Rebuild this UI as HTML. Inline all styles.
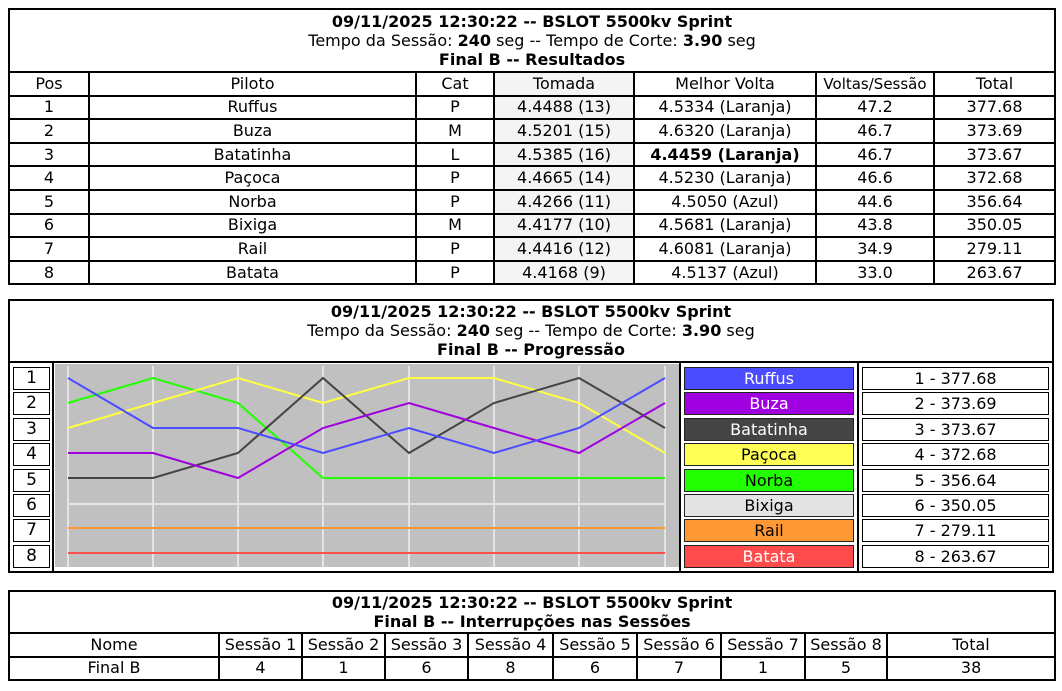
<!DOCTYPE html>
<html><head><meta charset="utf-8"><style>
body{margin:0;width:1062px;height:691px;background:#fff;font-family:"DejaVu Sans","Liberation Sans",sans-serif;font-size:16px;color:#000;position:relative;overflow:hidden}
table{position:absolute;border-collapse:collapse;table-layout:fixed}
td{border:2px solid #000;text-align:center;padding:0;white-space:nowrap;overflow:hidden;line-height:20px}
.t{line-height:19px;font-size:16px}
b{font-weight:bold}
.g{background:#f4f4f4}
.abs{position:absolute;box-sizing:border-box;text-align:center}
.pl{border:1.5px solid #000;background:#fff;font-size:17px;line-height:21px}
.lg{border:1.5px solid #222;font-size:16px;line-height:21px}
.vl{border:1.5px solid #000;background:#fff;font-size:16px;line-height:21px}
</style></head><body>
<table style="left:8px;top:8px;width:1046px">
<colgroup><col style="width:80px"><col style="width:327px"><col style="width:78px"><col style="width:140px"><col style="width:182px"><col style="width:118px"><col style="width:121px"></colgroup>
<tr><td colspan="7" class="t" style="height:61px"><b>09/11/2025 12:30:22 -- BSLOT 5500kv Sprint</b><br>Tempo da Sessão: <b>240</b> seg -- Tempo de Corte: <b>3.90</b> seg<br><b>Final B -- Resultados</b></td></tr>
<tr style="height:23.6px"><td>Pos</td><td>Piloto</td><td>Cat</td><td class="g">Tomada</td><td>Melhor Volta</td><td style="font-size:15px">Voltas/Sessão</td><td>Total</td></tr>
<tr style="height:23.6px"><td>1</td><td>Ruffus</td><td>P</td><td class="g">4.4488 (13)</td><td>4.5334 (Laranja)</td><td>47.2</td><td>377.68</td></tr>
<tr style="height:23.6px"><td>2</td><td>Buza</td><td>M</td><td class="g">4.5201 (15)</td><td>4.6320 (Laranja)</td><td>46.7</td><td>373.69</td></tr>
<tr style="height:23.6px"><td>3</td><td>Batatinha</td><td>L</td><td class="g">4.5385 (16)</td><td><b>4.4459 (Laranja)</b></td><td>46.7</td><td>373.67</td></tr>
<tr style="height:23.6px"><td>4</td><td>Paçoca</td><td>P</td><td class="g">4.4665 (14)</td><td>4.5230 (Laranja)</td><td>46.6</td><td>372.68</td></tr>
<tr style="height:23.6px"><td>5</td><td>Norba</td><td>P</td><td class="g">4.4266 (11)</td><td>4.5050 (Azul)</td><td>44.6</td><td>356.64</td></tr>
<tr style="height:23.6px"><td>6</td><td>Bixiga</td><td>M</td><td class="g">4.4177 (10)</td><td>4.5681 (Laranja)</td><td>43.8</td><td>350.05</td></tr>
<tr style="height:23.6px"><td>7</td><td>Rail</td><td>P</td><td class="g">4.4416 (12)</td><td>4.6081 (Laranja)</td><td>34.9</td><td>279.11</td></tr>
<tr style="height:23.6px"><td>8</td><td>Batata</td><td>P</td><td class="g">4.4168 (9)</td><td>4.5137 (Azul)</td><td>33.0</td><td>263.67</td></tr>
</table>

<div class="abs" style="left:8px;top:299px;width:1046px;height:274px;border:2px solid #000"></div>
<div class="abs" style="left:8px;top:302px;width:1046px;line-height:19px;font-size:16px"><b>09/11/2025 12:30:22 -- BSLOT 5500kv Sprint</b><br>Tempo da Sessão: <b>240</b> seg -- Tempo de Corte: <b>3.90</b> seg<br><b>Final B -- Progressão</b></div>
<div class="abs" style="left:8px;top:361px;width:1046px;height:2px;background:#000"></div>
<div class="abs" style="left:52px;top:362px;width:2px;height:210px;background:#000"></div>
<div class="abs" style="left:679px;top:362px;width:2px;height:210px;background:#000"></div>
<div class="abs" style="left:857px;top:362px;width:2px;height:210px;background:#000"></div>

<div class="abs pl" style="left:13px;top:367px;width:37px;height:23px">1</div>
<div class="abs pl" style="left:13px;top:392px;width:37px;height:23px">2</div>
<div class="abs pl" style="left:13px;top:418px;width:37px;height:23px">3</div>
<div class="abs pl" style="left:13px;top:443px;width:37px;height:23px">4</div>
<div class="abs pl" style="left:13px;top:469px;width:37px;height:23px">5</div>
<div class="abs pl" style="left:13px;top:494px;width:37px;height:23px">6</div>
<div class="abs pl" style="left:13px;top:519px;width:37px;height:23px">7</div>
<div class="abs pl" style="left:13px;top:545px;width:37px;height:23px">8</div>

<svg class="abs" style="left:55px;top:364px" width="624" height="203" viewBox="55 364 624 203">
<rect x="55" y="364" width="624" height="203" fill="#c0c0c0"/>
<g stroke="#e4e4e4" stroke-width="2">
<line x1="68" y1="366" x2="68" y2="567"/><line x1="153" y1="366" x2="153" y2="567"/><line x1="238" y1="366" x2="238" y2="567"/><line x1="323" y1="366" x2="323" y2="567"/><line x1="409" y1="366" x2="409" y2="567"/><line x1="494" y1="366" x2="494" y2="567"/><line x1="579" y1="366" x2="579" y2="567"/><line x1="665" y1="366" x2="665" y2="567"/>
<line x1="68" y1="504" x2="665" y2="504"/>
</g>
<g fill="none" stroke-width="2">
<polyline stroke="#ff5050" points="68,553 665,553"/>
<polyline stroke="#ff9933" points="68,528 665,528"/>
<polyline stroke="#22ff00" points="68,403 153,378 238,403 323,478 409,478 494,478 579,478 665,478"/>
<polyline stroke="#ffff40" points="68,428 153,403 238,378 323,403 409,378 494,378 579,403 665,453"/>
<polyline stroke="#444444" points="68,478 153,478 238,453 323,378 409,453 494,403 579,378 665,428"/>
<polyline stroke="#a000e0" points="68,453 153,453 238,478 323,428 409,403 494,428 579,453 665,403"/>
<polyline stroke="#4b4bff" points="68,378 153,428 238,428 323,453 409,428 494,453 579,428 665,378"/>
</g>
</svg>

<div class="abs lg" style="left:684px;top:367px;width:170px;height:23px;background:#4b4bff;color:#fff">Ruffus</div>
<div class="abs lg" style="left:684px;top:392px;width:170px;height:23px;background:#a000e0;color:#fff">Buza</div>
<div class="abs lg" style="left:684px;top:418px;width:170px;height:23px;background:#444;color:#fff">Batatinha</div>
<div class="abs lg" style="left:684px;top:443px;width:170px;height:23px;background:#ffff55">Paçoca</div>
<div class="abs lg" style="left:684px;top:469px;width:170px;height:23px;background:#22ff00">Norba</div>
<div class="abs lg" style="left:684px;top:494px;width:170px;height:23px;background:#e4e4e4">Bixiga</div>
<div class="abs lg" style="left:684px;top:519px;width:170px;height:23px;background:#ff9933">Rail</div>
<div class="abs lg" style="left:684px;top:545px;width:170px;height:23px;background:#ff4b4b;color:#fff">Batata</div>

<div class="abs vl" style="left:862px;top:367px;width:187px;height:23px">1 - 377.68</div>
<div class="abs vl" style="left:862px;top:392px;width:187px;height:23px">2 - 373.69</div>
<div class="abs vl" style="left:862px;top:418px;width:187px;height:23px">3 - 373.67</div>
<div class="abs vl" style="left:862px;top:443px;width:187px;height:23px">4 - 372.68</div>
<div class="abs vl" style="left:862px;top:469px;width:187px;height:23px">5 - 356.64</div>
<div class="abs vl" style="left:862px;top:494px;width:187px;height:23px">6 - 350.05</div>
<div class="abs vl" style="left:862px;top:519px;width:187px;height:23px">7 - 279.11</div>
<div class="abs vl" style="left:862px;top:545px;width:187px;height:23px">8 - 263.67</div>

<table style="left:8px;top:590px;width:1046px">
<colgroup><col style="width:210px"><col style="width:83px"><col style="width:83px"><col style="width:83px"><col style="width:85px"><col style="width:84px"><col style="width:84px"><col style="width:84px"><col style="width:82px"><col style="width:168px"></colgroup>
<tr><td colspan="10" class="t" style="height:40px"><b>09/11/2025 12:30:22 -- BSLOT 5500kv Sprint</b><br><b>Final B -- Interrupções nas Sessões</b></td></tr>
<tr style="height:23.5px"><td>Nome</td><td>Sessão 1</td><td>Sessão 2</td><td>Sessão 3</td><td>Sessão 4</td><td>Sessão 5</td><td>Sessão 6</td><td>Sessão 7</td><td>Sessão 8</td><td>Total</td></tr>
<tr style="height:23.5px"><td>Final B</td><td>4</td><td>1</td><td>6</td><td>8</td><td>6</td><td>7</td><td>1</td><td>5</td><td>38</td></tr>
</table>
</body></html>
